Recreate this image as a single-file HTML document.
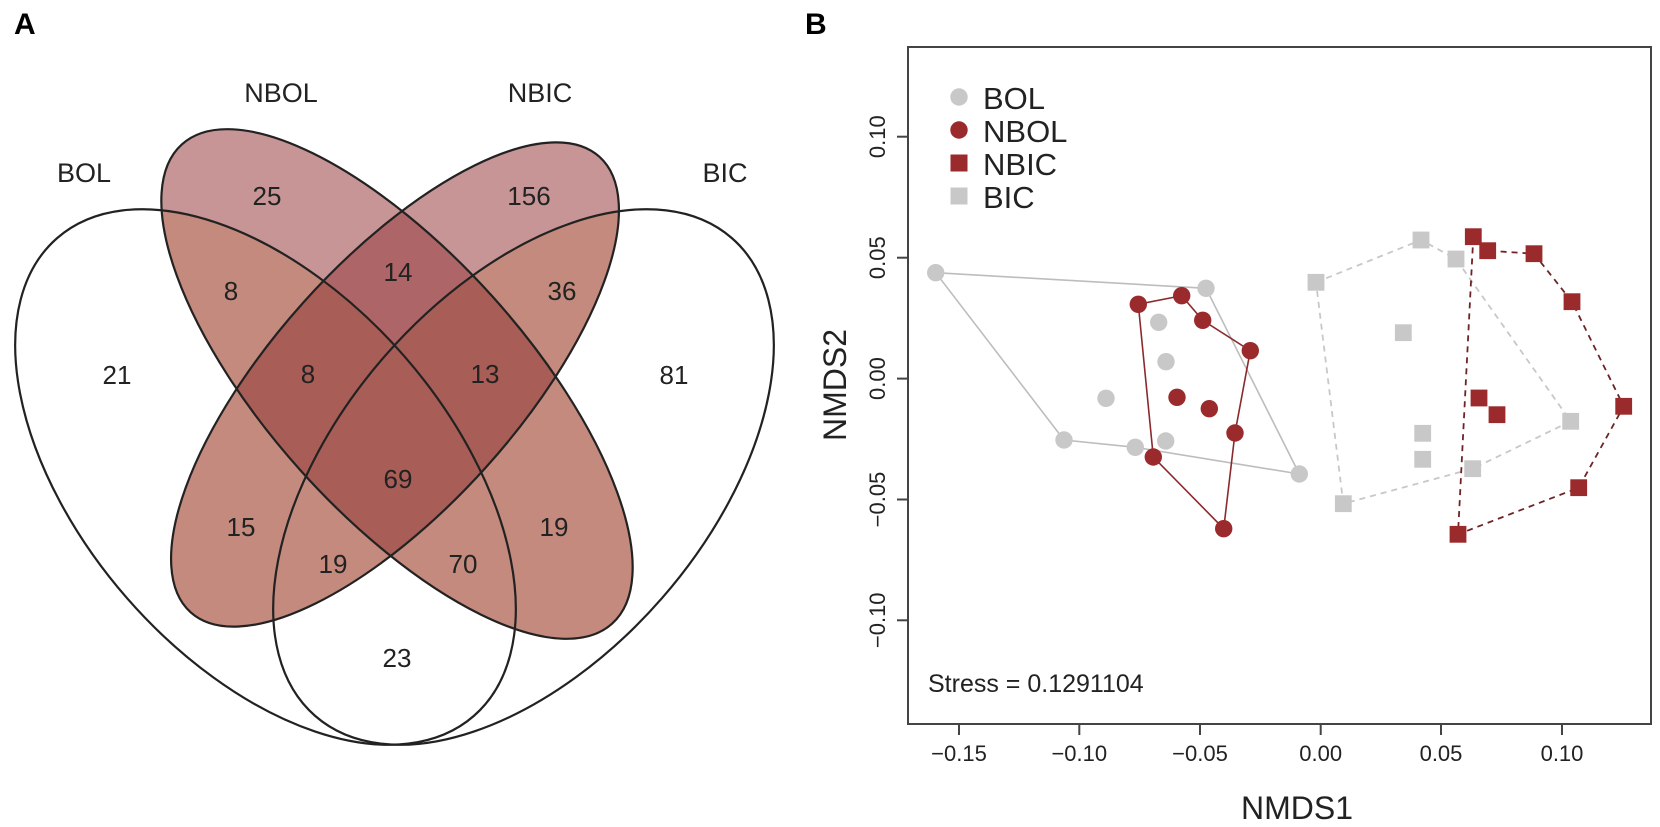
<!DOCTYPE html>
<html><head><meta charset="utf-8"><style>
html,body{margin:0;padding:0;background:#fff;}
svg{display:block;}
text{font-family:"Liberation Sans",Arial,sans-serif;}
</style></head><body>
<svg width="1660" height="827" viewBox="0 0 1660 827" xmlns="http://www.w3.org/2000/svg">
<defs>
<clipPath id="cA"><ellipse cx="265.5" cy="477" rx="317" ry="184" transform="rotate(48.9 265.5 477)"/></clipPath>
<clipPath id="cD"><ellipse cx="523.5" cy="477" rx="317" ry="184" transform="rotate(-48.9 523.5 477)"/></clipPath>
<clipPath id="cC"><ellipse cx="395" cy="384.5" rx="306" ry="123" transform="rotate(-48.1 395 384.5)"/></clipPath>
<ellipse id="eB" cx="397" cy="384" rx="322" ry="129.5" transform="rotate(48.1 397 384)"/>
<ellipse id="eC" cx="395" cy="384.5" rx="306" ry="123" transform="rotate(-48.1 395 384.5)"/>
</defs>
<rect width="1660" height="827" fill="#fff"/>
<g fill="#c89597"><use href="#eB"/><use href="#eC"/></g>
<g clip-path="url(#cC)"><use href="#eB" fill="#ad6567"/></g>
<g clip-path="url(#cA)" fill="#c38a7d"><use href="#eB"/><use href="#eC"/></g>
<g clip-path="url(#cD)" fill="#c38a7d"><use href="#eB"/><use href="#eC"/></g>
<g clip-path="url(#cA)"><g clip-path="url(#cC)"><use href="#eB" fill="#a85d56"/></g></g>
<g clip-path="url(#cD)"><g clip-path="url(#cC)"><use href="#eB" fill="#a85d56"/></g></g>
<g fill="none" stroke="#222" stroke-width="2.2">
<ellipse cx="265.5" cy="477" rx="317" ry="184" transform="rotate(48.9 265.5 477)"/>
<ellipse cx="523.5" cy="477" rx="317" ry="184" transform="rotate(-48.9 523.5 477)"/>
<use href="#eB"/><use href="#eC"/>
</g>
<text x="14" y="34" font-size="30" font-weight="bold" fill="#000">A</text>
<g font-size="27" fill="#222" text-anchor="middle">
<text x="84" y="182">BOL</text>
<text x="281" y="102">NBOL</text>
<text x="540" y="102">NBIC</text>
<text x="725" y="182">BIC</text>
</g>
<g font-size="26" fill="#222" text-anchor="middle">
<text x="267" y="205">25</text>
<text x="529" y="205">156</text>
<text x="231" y="300">8</text>
<text x="398" y="281">14</text>
<text x="562" y="300">36</text>
<text x="117" y="384">21</text>
<text x="308" y="383">8</text>
<text x="485" y="383">13</text>
<text x="674" y="384">81</text>
<text x="398" y="488">69</text>
<text x="241" y="536">15</text>
<text x="554" y="536">19</text>
<text x="333" y="573">19</text>
<text x="463" y="573">70</text>
<text x="397" y="667">23</text>
</g>
<text x="805" y="34" font-size="30" font-weight="bold" fill="#000">B</text>
<rect x="908" y="47" width="743" height="677" fill="none" stroke="#444" stroke-width="2"/>
<g stroke="#444" stroke-width="2">
<line x1="959" y1="724" x2="959" y2="735"/>
<line x1="1079.3" y1="724" x2="1079.3" y2="735"/>
<line x1="1200" y1="724" x2="1200" y2="735"/>
<line x1="1320.7" y1="724" x2="1320.7" y2="735"/>
<line x1="1441" y1="724" x2="1441" y2="735"/>
<line x1="1562" y1="724" x2="1562" y2="735"/>
<line x1="897" y1="136.7" x2="908" y2="136.7"/>
<line x1="897" y1="257.7" x2="908" y2="257.7"/>
<line x1="897" y1="378.6" x2="908" y2="378.6"/>
<line x1="897" y1="499.5" x2="908" y2="499.5"/>
<line x1="897" y1="620.3" x2="908" y2="620.3"/>
</g>
<g font-size="22" fill="#222" text-anchor="middle">
<text x="959" y="761">−0.15</text>
<text x="1079.3" y="761">−0.10</text>
<text x="1200" y="761">−0.05</text>
<text x="1320.7" y="761">0.00</text>
<text x="1441" y="761">0.05</text>
<text x="1562" y="761">0.10</text>
<text transform="translate(885 136.7) rotate(-90)">0.10</text>
<text transform="translate(885 257.7) rotate(-90)">0.05</text>
<text transform="translate(885 378.6) rotate(-90)">0.00</text>
<text transform="translate(885 499.5) rotate(-90)">−0.05</text>
<text transform="translate(885 620.3) rotate(-90)">−0.10</text>
</g>
<text x="1297" y="819" font-size="32" fill="#222" text-anchor="middle">NMDS1</text>
<text transform="translate(846 385) rotate(-90)" font-size="32" fill="#222" text-anchor="middle">NMDS2</text>
<text x="928" y="692" font-size="25" fill="#222">Stress = 0.1291104</text>
<circle cx="959" cy="97" r="8.7" fill="#c8c8c8"/>
<circle cx="959" cy="130" r="8.7" fill="#9a2a2c"/>
<rect x="950.5" y="154.5" width="17" height="17" fill="#9a2a2c"/>
<rect x="950.5" y="187.5" width="17" height="17" fill="#c8c8c8"/>
<g font-size="31" fill="#222">
<text x="983" y="109">BOL</text>
<text x="983" y="142">NBOL</text>
<text x="983" y="175">NBIC</text>
<text x="983" y="208">BIC</text>
</g>
<polygon points="935.7,272.7 1206,288.3 1299.3,474 1135.3,447.3 1064,440" fill="none" stroke="#bdbdbd" stroke-width="1.6"/>
<polygon points="1316,282.3 1421,240 1456,259 1570.7,421.3 1472.7,468.7 1343.3,503.7" fill="none" stroke="#c8c8c8" stroke-width="1.8" stroke-dasharray="6,5"/>
<g fill="#c8c8c8">
<circle cx="935.7" cy="272.7" r="8.7"/><circle cx="1206" cy="288.3" r="8.7"/>
<circle cx="1158.7" cy="322.3" r="8.7"/><circle cx="1166" cy="361.7" r="8.7"/>
<circle cx="1106" cy="398.3" r="8.7"/><circle cx="1064" cy="440" r="8.7"/>
<circle cx="1135.3" cy="447.3" r="8.7"/><circle cx="1165.7" cy="441" r="8.7"/>
<circle cx="1299.3" cy="474" r="8.7"/>
</g>
<g fill="#c8c8c8">
<rect x="1307.6" y="273.9" width="16.8" height="16.8"/><rect x="1412.6" y="231.6" width="16.8" height="16.8"/>
<rect x="1447.6" y="250.6" width="16.8" height="16.8"/><rect x="1394.9" y="324.3" width="16.8" height="16.8"/>
<rect x="1414.3" y="424.9" width="16.8" height="16.8"/><rect x="1414.3" y="450.9" width="16.8" height="16.8"/>
<rect x="1464.3" y="460.3" width="16.8" height="16.8"/><rect x="1562.3" y="412.9" width="16.8" height="16.8"/>
<rect x="1334.9" y="495.3" width="16.8" height="16.8"/>
</g>
<polygon points="1138.3,304.3 1181.7,295.7 1202.7,320.3 1250.3,350.7 1235,433 1223.7,528.7 1153.3,457" fill="none" stroke="#8b2a2d" stroke-width="1.6"/>
<polygon points="1473.3,236.7 1487.7,250.7 1534,253.7 1572,301.7 1623.7,406.3 1578.7,487.7 1458,534.3" fill="none" stroke="#6e2426" stroke-width="1.8" stroke-dasharray="6,5"/>
<g fill="#9a2a2c">
<circle cx="1138.3" cy="304.3" r="8.7"/><circle cx="1181.7" cy="295.7" r="8.7"/>
<circle cx="1202.7" cy="320.3" r="8.7"/><circle cx="1250.3" cy="350.7" r="8.7"/>
<circle cx="1177" cy="397.3" r="8.7"/><circle cx="1209.3" cy="408.7" r="8.7"/>
<circle cx="1235" cy="433" r="8.7"/><circle cx="1153.3" cy="457" r="8.7"/>
<circle cx="1223.7" cy="528.7" r="8.7"/>
</g>
<g fill="#9a2a2c">
<rect x="1464.9" y="228.3" width="16.8" height="16.8"/><rect x="1479.3" y="242.3" width="16.8" height="16.8"/>
<rect x="1525.6" y="245.3" width="16.8" height="16.8"/><rect x="1563.6" y="293.3" width="16.8" height="16.8"/>
<rect x="1615.3" y="397.9" width="16.8" height="16.8"/><rect x="1470.6" y="389.6" width="16.8" height="16.8"/>
<rect x="1488.6" y="406.3" width="16.8" height="16.8"/><rect x="1570.3" y="479.3" width="16.8" height="16.8"/>
<rect x="1449.6" y="525.9" width="16.8" height="16.8"/>
</g>
</svg>
</body></html>
